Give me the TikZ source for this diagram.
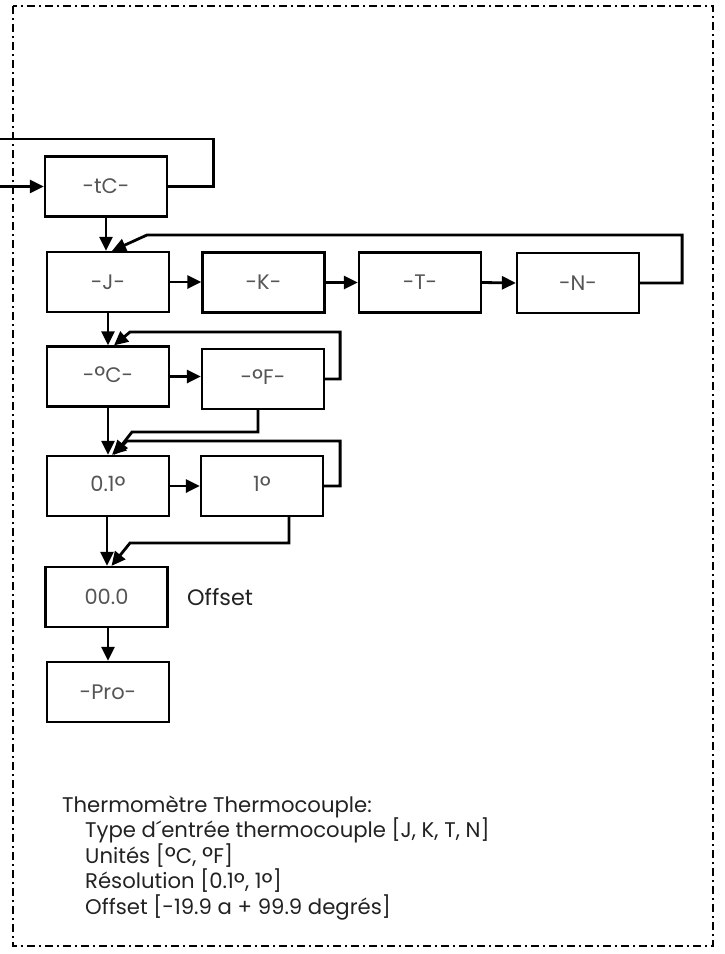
\documentclass[tikz,border=0pt]{standalone}
\usepackage{fontspec}
\usepackage{graphicx}
\setmainfont{Poppins}
\usetikzlibrary{arrows.meta,calc}
\definecolor{boxtext}{HTML}{555555}
\definecolor{bodytext}{HTML}{222222}
\newcommand\dg{\raisebox{-0.17em}{\scalebox{1.28}{°}}}
\tikzset{
  menubox/.style={draw=black, line width=2.2pt, minimum width=122pt, minimum height=60pt, inner sep=0pt,
    text=boxtext, font=\fontsize{21}{25}\selectfont},
  conn/.style={line width=2.8pt, line join=miter},
  arr/.style={conn, -{Triangle[length=14pt,width=13pt]}},
  note/.style={anchor=base west, inner sep=0pt, text=bodytext, font=\fontsize{21.2}{25}\selectfont},
  frame/.style={line width=2pt, dash pattern=on 8pt off 4pt on 2pt off 4pt}
}
\begin{document}
\begin{tikzpicture}[x=1pt,y=1pt]
\useasboundingbox (0,0) rectangle (724,-954);
\draw[frame] (13,-6) rectangle (713,-946);

\node[menubox] (tc) at (106,-186.5) {-tC-};
\node[menubox] (j) at (108,-282) {-J-};
\node[menubox] (k) at (263.5,-282.5) {-K-};
\node[menubox] (t) at (420,-282.5) {-T-};
\node[menubox] (n) at (578,-283) {-N-};
\node[menubox] (c) at (108,-376.5) {-\dg C-};
\node[menubox] (f) at (263,-379) {-\dg F-};
\node[menubox] (r1) at (108,-486) {0.1\dg};
\node[menubox] (r2) at (262,-486) {1\dg};
\node[menubox] (off) at (106.5,-597) {00.0};
\node[menubox] (pro) at (108,-692) {-Pro-};
\node[note, anchor=west, font=\fontsize{22.3}{26}\selectfont] (offlbl) at (187,-597) {Offset};

\coordinate (in) at (0,-186.5);
\coordinate (out) at (0,-139);

% tC
\draw[arr] (in) -- (tc.west);
\draw[conn] (tc.east) -- ++(45,0) |- (out);
\draw[arr] (tc.south) -- (tc.south |- j.north);

% J K T N
\draw[arr] (j.east) -- (k.west |- j.east);
\draw[arr] (k.east) -- (t.west);
\draw[arr] (t.east) -- (n.west);
\draw[arr] (n.east) -- ++(42,0) |- (147,-235) -- ([xshift=4pt]j.north);
\draw[arr] (j.south) -- (j.south |- c.north);

% C F
\draw[arr] (c.east) -- (f.west |- c.east);
\draw[arr] (f.east) -- ++(15,0) |- (130,-332) -- ([xshift=6pt]c.north);
\draw[arr] (c.south) -- (c.south |- r1.north);
\draw[arr] ([xshift=-5pt]f.south) |- (132,-432) -- ([xshift=6pt]r1.north);

% resolution
\draw[arr] (r1.east) -- (r2.west);
\draw[arr] (r2.east) -- ++(16,0) |- (127,-441) -- ([xshift=4pt]r1.north);
\draw[arr] ([xshift=-1pt]r1.south) -- ([xshift=0.5pt]off.north);
\draw[arr] ([xshift=27pt]r2.south) |- (130,-543) -- ([xshift=5pt]off.north);

% offset
\draw[arr] ([xshift=1.5pt]off.south) -- (pro.north);

% notes
\node[note] (l1) at (62,-812) {Thermomètre Thermocouple:};
\node[note] (l2) at (85,-837.5) {Type d´entrée thermocouple [J, K, T, N]};
\node[note] (l3) at (85,-863) {Unités [\dg C, \dg F]};
\node[note] (l4) at (85,-888.5) {Résolution [0.1\dg, 1\dg]};
\node[note] (l5) at (85,-914) {Offset [-19.9 a + 99.9 degrés]};
\end{tikzpicture}
\end{document}
